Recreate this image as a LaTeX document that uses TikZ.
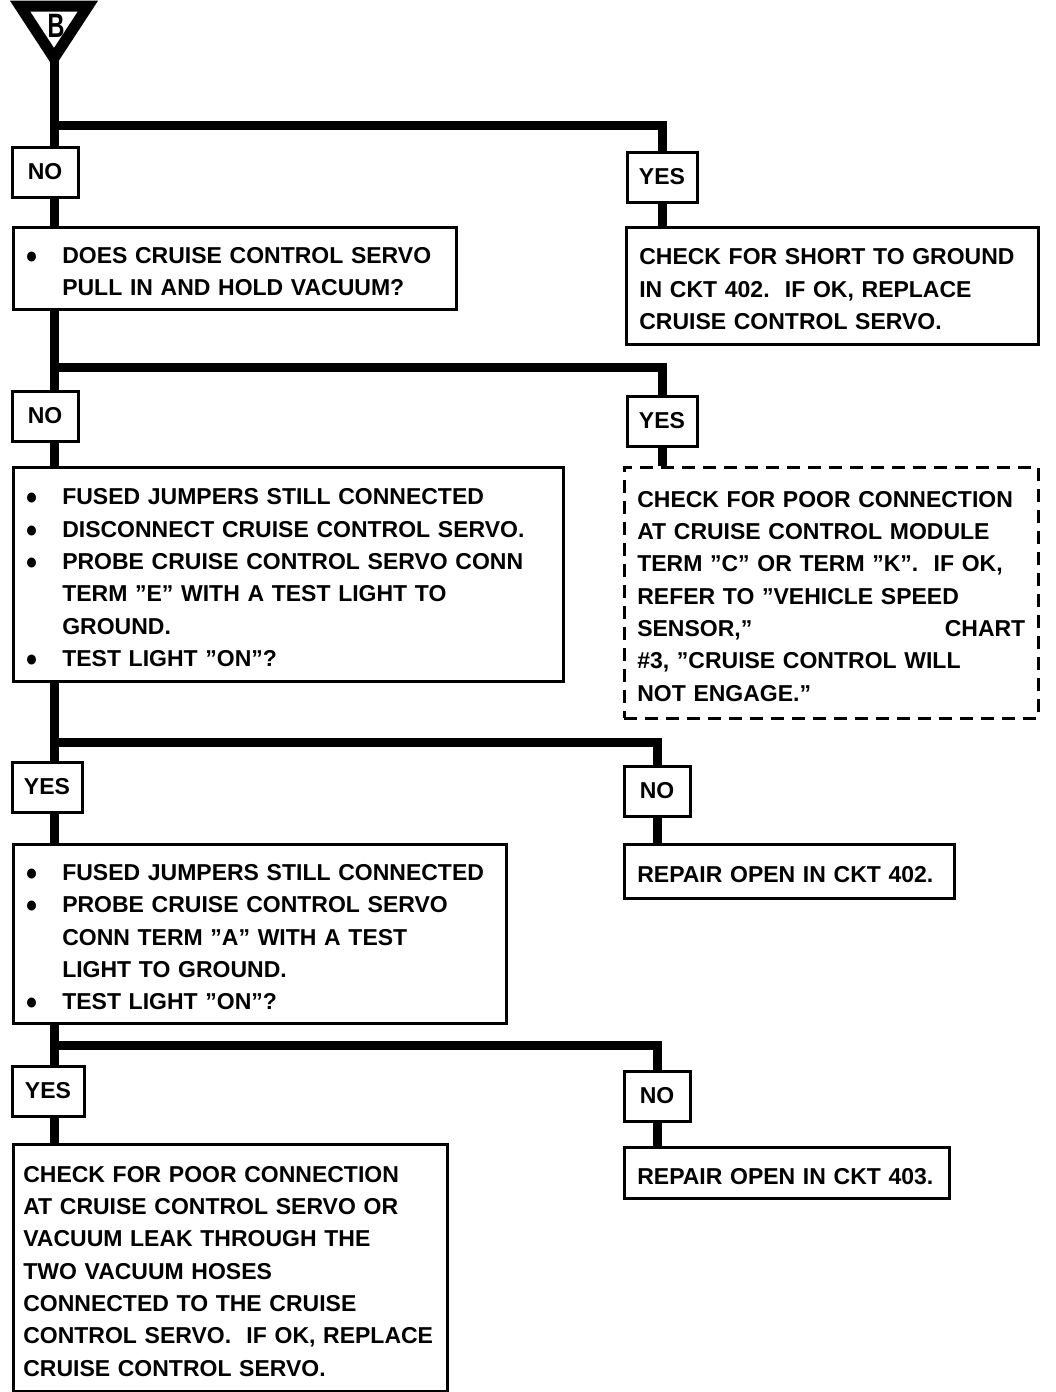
\documentclass[tikz,border=0pt]{standalone}
\usepackage{fontspec}
\setmainfont{Liberation Sans}
\usepackage{tikz}

\newcommand{\chartfont}{\fontsize{23}{32.3}\selectfont\bfseries}
\newcommand{\itm}{\makebox[36pt][l]{\hspace{-1pt}\scalebox{0.9}[1]{●}}}
\newcommand{\ind}{\hspace*{36pt}}

\tikzset{
  flow/.style={line width=9pt},
  answer/.style={draw, line width=3pt, fill=white, minimum width=66pt, minimum height=50pt, inner sep=0pt, font=\chartfont},
  stepbox/.style={draw, line width=2.6pt, fill=white, anchor=north west, align=left, inner xsep=13pt, inner ysep=0pt, font=\chartfont,
    execute at begin node=\rule{0pt}{23pt}},
}

\begin{document}
\begin{tikzpicture}[x=1pt, y=-1pt]
		\useasboundingbox (0,0) rectangle (1056,1392);

		% entry mark
		\coordinate (apex) at (54,58);
		\draw[line width=11pt, line join=miter] (20,6) -- (88,6) -- (apex) -- cycle;
		\node[font=\fontsize{26}{26}\selectfont\bfseries, inner sep=0pt] (mark) at (56,26) {\scalebox{0.9}[1.3]{B}};

		% answers
		\node[answer] (no1) at (45,172) {NO};
		\node[answer, minimum width=70pt] (yes1) at (662,177) {YES};
		\node[answer] (no2) at (45,416) {NO};
		\node[answer, minimum width=70pt] (yes2) at (662,421) {YES};
		\node[answer, minimum width=70pt] (yes3) at (47,787) {YES};
		\node[answer] (no3) at (657,791) {NO};
		\node[answer, minimum width=72pt] (yes4) at (48,1091) {YES};
		\node[answer] (no4) at (657,1096) {NO};

		% steps
		\node[stepbox, text width=417pt, minimum height=82pt] (q1) at (12,226)
			{\itm DOES CRUISE CONTROL SERVO\\ \ind PULL IN AND HOLD VACUUM?};
		\node[stepbox, text width=386pt, minimum height=117pt] (r1) at (625,226)
			{CHECK FOR SHORT TO GROUND\\ IN CKT 402.\ \ IF OK, REPLACE\\ CRUISE CONTROL SERVO.};
		\node[stepbox, text width=524pt, minimum height=214pt] (q2) at (12,466)
			{\itm FUSED JUMPERS STILL CONNECTED\\ \itm DISCONNECT CRUISE CONTROL SERVO.\\ \itm PROBE CRUISE CONTROL SERVO CONN\\ \ind TERM "E" WITH A TEST LIGHT TO\\ \ind GROUND.\\ \itm TEST LIGHT "ON"?};
		\node[stepbox, dash pattern=on 13pt off 8pt, text width=388pt, minimum height=251pt] (r2) at (623,466)
			{CHECK FOR POOR CONNECTION\\ AT CRUISE CONTROL MODULE\\ TERM "C" OR TERM "K".\ \ IF OK,\\ REFER TO "VEHICLE SPEED\\ SENSOR,"\hfill CHART\\ \#3, "CRUISE CONTROL WILL\\ NOT ENGAGE."};
		\node[stepbox, text width=467pt, minimum height=179pt] (q3) at (12,843)
			{\itm FUSED JUMPERS STILL CONNECTED\\ \itm PROBE CRUISE CONTROL SERVO\\ \ind CONN TERM "A" WITH A TEST\\ \ind LIGHT TO GROUND.\\ \itm TEST LIGHT "ON"?};
		\node[stepbox, text width=304pt, minimum height=54pt] (r3) at (623,843)
			{REPAIR OPEN IN CKT 402.};
		\node[stepbox, inner xsep=10pt, text width=414pt, minimum height=247pt] (r4) at (12,1143)
			{CHECK FOR POOR CONNECTION\\ AT CRUISE CONTROL SERVO OR\\ VACUUM LEAK THROUGH THE\\ TWO VACUUM HOSES\\ CONNECTED TO THE CRUISE\\ CONTROL SERVO.\ \ IF OK, REPLACE\\ CRUISE CONTROL SERVO.};
		\node[stepbox, text width=299pt, minimum height=51pt] (r5) at (623,1146)
			{REPAIR OPEN IN CKT 403.};

		% trunk
		\coordinate (j1) at (54,125);
		\coordinate (j2) at (54,367);
		\coordinate (j3) at (54,742);
		\coordinate (j4) at (54,1045);
		\draw[flow] (apex) -- (apex |- no1.north);
		\foreach \a/\b in {no1/q1, q1/no2, no2/q2, q2/yes3, yes3/q3, q3/yes4, yes4/r4}
			\draw[flow] (apex |- \a.south) -- (apex |- \b.north);

		% side branches
		\foreach \j/\a/\b in {j1/yes1/r1, j2/yes2/r2, j3/no3/r3, j4/no4/r5}{
			\draw[flow] (\j) -| (\a.north);
			\draw[flow] (\a.south) -- (\a.south |- \b.north);
		}
	\end{tikzpicture}
\end{document}
